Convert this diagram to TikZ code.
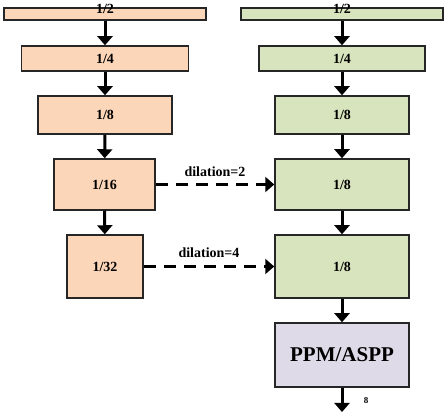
\documentclass[tikz,border=0pt]{standalone}
\usepackage{fontspec}
\setmainfont{Liberation Serif}
\usetikzlibrary{arrows.meta}
\definecolor{peach}{HTML}{FBD6B8}
\definecolor{sage}{HTML}{D8E4BE}
\definecolor{lilac}{HTML}{DFDAE7}
\begin{document}
\begin{tikzpicture}[x=1pt,y=-1pt,
  blk/.style={draw=black!85,line width=1.5pt,inner sep=0pt,font=\fontsize{14}{14}\selectfont\bfseries},
  lb/.style={blk,fill=peach},
  rb/.style={blk,fill=sage},
  pb/.style={blk,fill=lilac,font=\fontsize{21}{21}\selectfont\bfseries},
  flow/.style={line width=3pt,-{Triangle[width=15pt,length=9pt]}},
  skip/.style={flow,dash pattern=on 12pt off 8pt},
  lab/.style={font=\fontsize{14}{14}\selectfont\bfseries}]
\useasboundingbox (0,0) rectangle (448,417);
% left column
\node[lb,minimum width=202pt,minimum height=12pt] (l2) at (105,14) {\raisebox{0pt}[0pt][0pt]{1/2}};
\node[lb,minimum width=167pt,minimum height=25pt] (l4) at (105,58.5) {1/4};
\node[lb,minimum width=134pt,minimum height=38pt] (l8) at (105,115) {1/8};
\node[lb,minimum width=101pt,minimum height=51pt] (l16) at (104.5,184.5) {1/16};
\node[lb,minimum width=76pt,minimum height=63pt] (l32) at (105,266.5) {1/32};
% right column
\node[rb,minimum width=202pt,minimum height=12pt] (r2) at (342,14) {\raisebox{0pt}[0pt][0pt]{1/2}};
\node[rb,minimum width=166pt,minimum height=25pt] (r4) at (342,58.5) {1/4};
\node[rb,minimum width=134pt,minimum height=38pt] (r8) at (342,115) {1/8};
\node[rb,minimum width=134pt,minimum height=51pt] (r8b) at (342,184.5) {1/8};
\node[rb,minimum width=134pt,minimum height=63pt] (r8c) at (342,266.5) {1/8};
\node[pb,minimum width=134pt,minimum height=64pt] (pp) at (342,355) {PPM/ASPP};
\coordinate (out) at (342,412);
% arrows
\draw[flow] (l2) -- (l4);
\draw[flow] (l4) -- (l8);
\draw[flow] (l8) -- (l16);
\draw[flow] (l16) -- (l32);
\draw[flow] (r2) -- (r4);
\draw[flow] (r4) -- (r8);
\draw[flow] (r8) -- (r8b);
\draw[flow] (r8b) -- (r8c);
\draw[flow] (r8c) -- (pp);
\draw[flow] (pp) -- (out);
\draw[skip] (l16.east) -- (r8b.west) node[lab,midway,above=3pt] (d2) {dilation=2};
\draw[skip] (l32.east) -- (r8c.west) node[lab,midway,above=4pt] (d4) {dilation=4};
\node[font=\fontsize{9}{9}\selectfont\bfseries] (e8) at (366,401) {8};
\end{tikzpicture}
\end{document}
